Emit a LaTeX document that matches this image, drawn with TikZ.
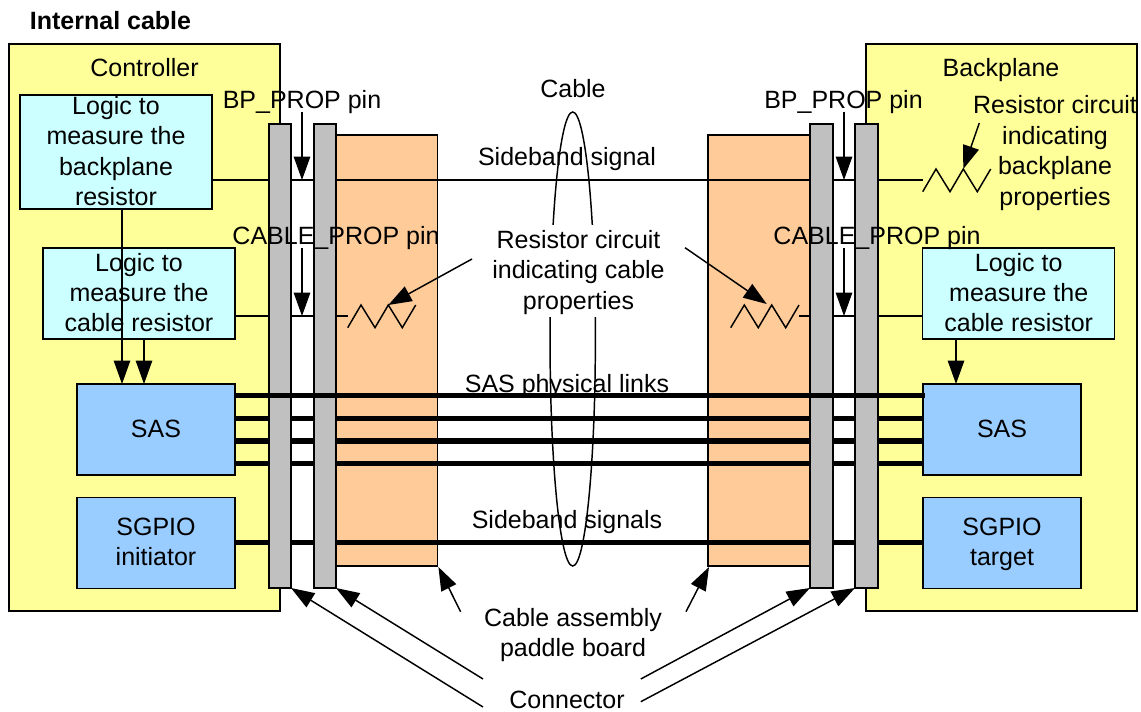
\documentclass[tikz,border=0pt]{standalone}
\usepackage{fontspec}
\setmainfont{Liberation Sans}
\usetikzlibrary{arrows.meta,shapes.geometric}
\definecolor{hostyellow}{RGB}{255,255,153}
\definecolor{logiccyan}{RGB}{204,255,255}
\definecolor{chipblue}{RGB}{153,204,255}
\definecolor{boardorange}{RGB}{255,204,153}
\definecolor{conngray}{RGB}{192,192,192}
\newcommand{\rectbox}[6]{%
  \pgfmathsetmacro{\rbx}{(#3+#5)/2}\pgfmathsetmacro{\rby}{(#4+#6)/2}%
  \pgfmathsetmacro{\rbw}{(#5-#3)*0.75}\pgfmathsetmacro{\rbh}{(#6-#4)*0.75}%
  \node[#1,minimum width=\rbw pt,minimum height=\rbh pt] (#2) at (\rbx,\rby)}
\newcommand{\firstln}{\leavevmode\vrule width 0pt height 16.45pt depth 0pt\relax}
\newcommand{\lastln}{\vrule width 0pt height 0pt depth 4.55pt\relax}
\newcommand{\firstlow}{\leavevmode\vrule width 0pt height 14.4pt depth 0pt\relax}
\newcommand{\lastlow}{\vrule width 0pt height 0pt depth 2.5pt\relax}
\tikzset{
  txt/.style={font=\fontsize{18.75}{22.8}\selectfont,align=center,inner sep=0pt,text=black},
  oneline/.style={txt,execute at begin node=\firstln,execute at end node=\lastln},
  shape box/.style={draw=black,line width=1.1pt,rectangle,inner sep=0pt,outer sep=0pt},
  hostbox/.style={shape box,fill=hostyellow},
  logicbox/.style={shape box,fill=logiccyan,txt},
  chipbox/.style={shape box,fill=chipblue,txt},
  boardbox/.style={shape box,fill=boardorange},
  connbox/.style={shape box,fill=conngray},
  thinw/.style={draw=black,line width=1.1pt},
  thickw/.style={draw=black,line width=3.8pt},
  arr/.style={draw=black,line width=1.1pt,-{Triangle[length=17.5pt,width=12.3pt]}},
  zig/.style={draw=black,line width=1.1pt,line join=miter},
}
\begin{document}
\begin{tikzpicture}[x=0.75pt,y=-0.75pt]
\useasboundingbox (0,0) rectangle (1141,712);
% hosts
\rectbox{hostbox}{ctrl}{9}{44}{280}{611}{};
\rectbox{hostbox}{bplane}{866}{44}{1137}{611}{};
% paddle boards
\rectbox{boardbox}{padL}{336}{135}{437.5}{566}{};
\rectbox{boardbox}{padR}{708}{135}{810}{566}{};
% function boxes
\rectbox{logicbox}{logBP}{20}{95}{212}{209}{\firstlow Logic to\\measure the\\backplane\\resistor\lastlow};
\rectbox{logicbox}{logCL}{43}{248}{235}{339}{\firstln Logic to\\measure the\\cable resistor\lastln};
\rectbox{logicbox}{logCR}{922.7}{248}{1114.7}{339}{\firstln Logic to\\measure the\\cable resistor\lastln};
\rectbox{chipbox,oneline}{sasL}{77}{384}{235}{475}{SAS};
\rectbox{chipbox}{sgpL}{77}{497.3}{235}{588.3}{\firstln SGPIO\\initiator\lastln};
\rectbox{chipbox,oneline}{sasR}{923}{384}{1081}{475}{SAS};
\rectbox{chipbox}{sgpR}{923}{497.3}{1081}{588.3}{\firstln SGPIO\\target\lastln};
% resistors' named points
\coordinate (rcL0) at (347.7,316); \coordinate (zL1) at (347.7,327.7); \coordinate (zL2) at (361,305);
\coordinate (zL3) at (375,327.7); \coordinate (zL4) at (388.3,305); \coordinate (zL5) at (402.3,327.7); \coordinate (zL6) at (415.7,305);
\coordinate (rcR0) at (799,316); \coordinate (zR1) at (730.7,327.7); \coordinate (zR2) at (744.3,305);
\coordinate (zR3) at (758.3,327.7); \coordinate (zR4) at (771.7,305); \coordinate (zR5) at (785.7,327.7); \coordinate (zR6) at (799,305);
\coordinate (rbp0) at (922.7,180); \coordinate (zB1) at (922.7,191.7); \coordinate (zB2) at (936,169);
\coordinate (zB3) at (950,191.7); \coordinate (zB4) at (963.3,169); \coordinate (zB5) at (977.3,191.7); \coordinate (zB6) at (990.7,169);
\draw[zig] (zL1)--(zL2)--(zL3)--(zL4)--(zL5)--(zL6);
\draw[zig] (zR1)--(zR2)--(zR3)--(zR4)--(zR5)--(zR6);
\draw[zig] (zB1)--(zB2)--(zB3)--(zB4)--(zB5)--(zB6);
% thin wires
\draw[thinw] (logBP.east |- 0,180) -- (rbp0);
\draw[thinw] (logCL.east |- 0,316) -- (rcL0);
\draw[thinw] (rcR0) -- (logCR.west |- 0,316);
% thick wires under the bars
\foreach \yy in {418.3,441,463.3}{\draw[thickw] (sasL.east |- 0,\yy) -- (sasR.west |- 0,\yy);}
\draw[thickw] (sgpL.east |- 0,542.7) -- (sgpR.west |- 0,542.7);
% connector bars
\rectbox{connbox}{barLa}{269}{124}{291}{588}{};
\rectbox{connbox}{barLb}{314}{124}{336}{588}{};
\rectbox{connbox}{barRa}{810}{124}{833}{588}{};
\rectbox{connbox}{barRb}{855}{124}{878}{588}{};
% top link runs over the bars
\coordinate (topend) at (925,395.7);
\draw[thickw] (sasL.east |- topend) -- (topend);
% cable loop
\node[ellipse,draw=black,line width=1.1pt,inner sep=0pt,minimum width=34pt,minimum height=340.5pt] (loop) at (572.7,339) {};
% labels
\node[oneline,font=\fontsize{18.75}{22.8}\selectfont\bfseries] (title) at (110.5,21.5) {Internal cable};
\node[oneline] (lCtrl) at (144.5,69) {Controller};
\node[oneline] (lBack) at (1001,69) {Backplane};
\node[oneline] (lBpL) at (302,101) {BP\_PROP pin};
\node[oneline] (lBpR) at (843.5,101) {BP\_PROP pin};
\node[oneline] (lClL) at (336,237) {CABLE\_PROP pin};
\node[oneline] (lClR) at (877,237) {CABLE\_PROP pin};
\node[oneline] (lCable) at (573,89.7) {Cable};
\node[oneline] (lSide) at (567,157.7) {Sideband signal};
\node[oneline] (lSas) at (567,384.3) {SAS physical links};
\node[oneline] (lSides) at (567,520.5) {Sideband signals};
\node[txt,fill=white,minimum width=160pt,minimum height=69.5pt] (lRes) at (578.5,271) {\firstln Resistor circuit\\indicating cable\\properties\lastln};
\node[txt] (lResB) at (1055,151.6) {\firstln Resistor circuit\\indicating\\backplane\\properties\lastln};
\node[txt] (lPad) at (573,633.7) {\firstln Cable assembly\\paddle board\lastln};
\node[oneline] (lConn) at (567,700.5) {Connector};
% free ends
\coordinate (pinLa) at (302,112); \coordinate (pinLat) at (302,180);
\coordinate (pinLb) at (302,248); \coordinate (pinLbt) at (302,316);
\coordinate (pinRa) at (844,112); \coordinate (pinRat) at (844,180);
\coordinate (pinRb) at (844,248); \coordinate (pinRbt) at (844,316);
\coordinate (resLs) at (472,259); \coordinate (resRs) at (685,247.7); \coordinate (resBs) at (979.3,123);
\coordinate (resRt) at (766.7,304);
\coordinate (tipPL) at (438.4,567); \coordinate (stPL) at (460.6,611.7);
\coordinate (tipPR) at (709,567); \coordinate (stPR) at (686,611.7);
\coordinate (cLa) at (483,707); \coordinate (cLb) at (483,679);
\coordinate (cRa) at (640.8,679); \coordinate (cRb) at (640.8,701.7);
% arrows
\draw[arr] (pinLa) -- (pinLat);
\draw[arr] (pinLb) -- (pinLbt);
\draw[arr] (pinRa) -- (pinRat);
\draw[arr] (pinRb) -- (pinRbt);
\draw[arr] (logBP.south -| 122,0) -- (sasL.north -| 122,0);
\draw[arr] (logCL.south -| 144,0) -- (sasL.north -| 144,0);
\draw[arr] (logCR.south -| 956,0) -- (sasR.north -| 956,0);
\draw[arr] (resLs) -- (zL4);
\draw[arr] (resRs) -- (resRt);
\draw[arr] (resBs) -- (zB4);
\draw[arr] (stPL) -- (tipPL);
\draw[arr] (stPR) -- (tipPR);
\draw[arr] (cLa) -- (barLa.south east);
\draw[arr] (cLb) -- (barLb.south east);
\draw[arr] (cRa) -- (barRa.south west);
\draw[arr] (cRb) -- (barRb.south west);
\end{tikzpicture}
\end{document}
